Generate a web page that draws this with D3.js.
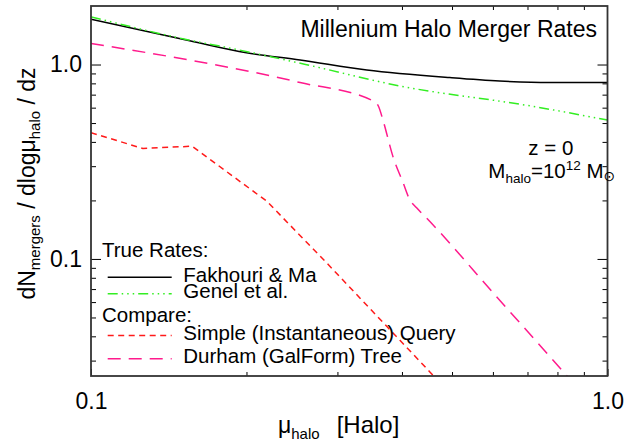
<!doctype html>
<html lang="en">
<head>
<meta charset="UTF-8">
<title>Millenium Halo Merger Rates</title>
<script src="https://d3js.org/d3.v7.min.js"></script>
<style>
    body { margin: 0; background: #fff; }
    text { font-family: 'Liberation Sans', Arial, Helvetica, sans-serif; fill: #000; }
    .tick line { stroke: #000; stroke-width: 1px; }
    .frame { fill: none; stroke: #333; stroke-width: 1.8px; }
    .curve { fill: none; stroke-width: 1.5px; }
</style>
</head>
<body>
<script>
// values
const muFakhouri   = [0.1, 0.156, 0.2, 0.254, 0.342, 0.495, 0.618, 0.772, 1.0];
const rateFakhouri = [1.71, 1.32, 1.15, 1.056, 0.938, 0.857, 0.823, 0.808, 0.808];

const muGenel   = [0.1, 0.152, 0.19, 0.259, 0.396, 0.716, 1.0];
const rateGenel = [1.76, 1.35, 1.20, 1.004, 0.776, 0.61, 0.518];

const muSimple   = [0.1, 0.126, 0.157, 0.219, 0.286, 0.452, 0.5];
const rateSimple = [0.446, 0.370, 0.38, 0.198, 0.0954, 0.0264, 0.0199];

const muDurham   = [0.1, 0.254, 0.352, 0.36, 0.368, 0.384, 0.402, 0.414, 0.427, 0.446, 0.609, 0.832, 0.9];
const rateDurham = [1.283, 0.808, 0.649, 0.612, 0.512, 0.338, 0.2465, 0.202, 0.1832, 0.1627, 0.0642, 0.0253, 0.020];

const xMajor = [0.1, 1.0];
const xMinor = [0.2, 0.3, 0.4, 0.5, 0.6, 0.7, 0.8, 0.9];
const yMajor = [0.1, 1.0];
const yMinor = [0.03, 0.04, 0.05, 0.06, 0.07, 0.08, 0.09, 0.2, 0.3, 0.4, 0.5, 0.6, 0.7, 0.8, 0.9];

const series = [
    {name: 'Fakhouri & Ma', mu: muFakhouri, rate: rateFakhouri, color: '#000000', dash: null, smooth: true},
    {name: 'Genel et al.', mu: muGenel, rate: rateGenel, color: '#33ee22', dash: '10,4,1.5,4,1.5,4,1.5,4', smooth: true},
    {name: 'Simple (Instantaneous) Query', mu: muSimple, rate: rateSimple, color: '#ff1a1a', dash: '6,4.5', smooth: false},
    {name: 'Durham (GalForm) Tree', mu: muDurham, rate: rateDurham, color: '#ff1a8c', dash: '13,8', smooth: true}
];

const width = 626,
      height = 443;

const x = d3.scaleLog().domain([0.1, 1.0]).range([91, 607.5]);
const y = d3.scaleLog().domain([0.025, 2.0]).range([376, 6]);

const svg = d3.select('body').append('svg')
    .attr('width', width)
    .attr('height', height);

svg.append('defs').append('clipPath').attr('id', 'plotclip')
  .append('rect')
    .attr('x', x.range()[0]).attr('y', y.range()[1])
    .attr('width', x.range()[1] - x.range()[0])
    .attr('height', y.range()[0] - y.range()[1]);

// curves
const g = svg.append('g').attr('clip-path', 'url(#plotclip)');
series.forEach(function(s) {
    const pts = s.mu.map((m, i) => [m, s.rate[i]]);
    const line = d3.line()
        .x(d => x(d[0]))
        .y(d => y(d[1]))
        .curve(s.smooth ? d3.curveMonotoneX : d3.curveLinear);
    g.append('path')
        .attr('class', 'curve')
        .attr('d', line(pts))
        .style('stroke', s.color)
        .style('stroke-dasharray', s.dash);
});

// axes (ticks point inward, IDL style)
function noLine(sel) { sel.select('.domain').remove(); }
const fontTick = 23;

svg.append('g').attr('transform', `translate(${x.range()[0]},0)`)
    .call(d3.axisLeft(y).tickValues(yMajor).tickSize(-10).tickPadding(9).tickFormat(d3.format('.1f')))
    .call(noLine)
    .call(a => a.selectAll('text').style('font-size', fontTick + 'px').attr('font-family', null));
svg.append('g').attr('transform', `translate(${x.range()[0]},0)`)
    .call(d3.axisLeft(y).tickValues(yMinor).tickSize(-5).tickFormat(''))
    .call(noLine);
svg.append('g').attr('transform', `translate(${x.range()[1]},0)`)
    .call(d3.axisRight(y).tickValues(yMajor).tickSize(-10).tickFormat(''))
    .call(noLine);
svg.append('g').attr('transform', `translate(${x.range()[1]},0)`)
    .call(d3.axisRight(y).tickValues(yMinor).tickSize(-5).tickFormat(''))
    .call(noLine);

svg.append('g').attr('transform', `translate(0,${y.range()[0]})`)
    .call(d3.axisBottom(x).tickValues(xMajor).tickSize(-7).tickPadding(16.7).tickFormat(d3.format('.1f')))
    .call(noLine)
    .call(a => a.selectAll('text').style('font-size', fontTick + 'px').attr('font-family', null));
svg.append('g').attr('transform', `translate(0,${y.range()[0]})`)
    .call(d3.axisBottom(x).tickValues(xMinor).tickSize(-4).tickFormat(''))
    .call(noLine);
svg.append('g').attr('transform', `translate(0,${y.range()[1]})`)
    .call(d3.axisTop(x).tickValues(xMinor).tickSize(-4).tickFormat(''))
    .call(noLine);

svg.append('rect')
    .attr('class', 'frame')
    .attr('x', x.range()[0]).attr('y', y.range()[1])
    .attr('width', x.range()[1] - x.range()[0])
    .attr('height', y.range()[0] - y.range()[1]);

// axis titles
const ytitle = svg.append('text')
    .attr('transform', 'translate(35,183.5) rotate(-90)')
    .attr('text-anchor', 'middle')
    .style('font-size', '23px');
ytitle.append('tspan').text('dN');
ytitle.append('tspan').attr('dy', 5).style('font-size', '15px').text('mergers');
ytitle.append('tspan').attr('dy', -5).text(' / dlog\u03bc');
ytitle.append('tspan').attr('dy', 5).style('font-size', '15px').text('halo');
ytitle.append('tspan').attr('dy', -5).text(' / dz');

const xtitle = svg.append('text')
    .attr('x', 278).attr('y', 433)
    .style('font-size', '23px');
xtitle.append('tspan').text('\u03bc');
xtitle.append('tspan').attr('dy', 6).style('font-size', '15px').text('halo');
xtitle.append('tspan').attr('x', 336.7).attr('dy', -6).style('font-size', '24px').text('[Halo]');

// title and annotations
svg.append('text')
    .attr('x', 597).attr('y', 36.7)
    .attr('text-anchor', 'end')
    .style('font-size', '23px')
    .text('Millenium Halo Merger Rates');

svg.append('text')
    .attr('x', 528.3).attr('y', 155)
    .style('font-size', '20.5px')
    .text('z = 0');

const mh = svg.append('text')
    .attr('x', 488.3).attr('y', 178.3)
    .style('font-size', '20.5px');
mh.append('tspan').text('M');
mh.append('tspan').attr('dy', 5).style('font-size', '13.5px').text('halo');
mh.append('tspan').attr('dy', -5).text('=10');
mh.append('tspan').attr('dy', -8).style('font-size', '13.5px').text('12');
mh.append('tspan').attr('dy', 8).text(' M');
mh.append('tspan').attr('dy', 3).style('font-size', '14px').attr('font-family', 'DejaVu Sans').text('\u2299');

// legend
const legendHeads = ['True Rates:', 'Compare:'];
const headY = [256.7, 321.7];
const rowY = [281.7, 298.3, 340, 363.3];

legendHeads.forEach(function(h, i) {
    svg.append('text')
        .attr('x', 102).attr('y', headY[i])
        .style('font-size', '20.5px')
        .text(h);
});

series.forEach(function(s, i) {
    svg.append('line')
        .attr('x1', 107.7).attr('x2', 171.7)
        .attr('y1', rowY[i] - 4.5).attr('y2', rowY[i] - 4.5)
        .style('stroke', s.color)
        .style('stroke-width', 1.5)
        .style('stroke-dasharray', s.dash);
    svg.append('text')
        .attr('x', 183.3).attr('y', rowY[i])
        .style('font-size', '20.5px')
        .text(s.name);
});
</script>
</body>
</html>
